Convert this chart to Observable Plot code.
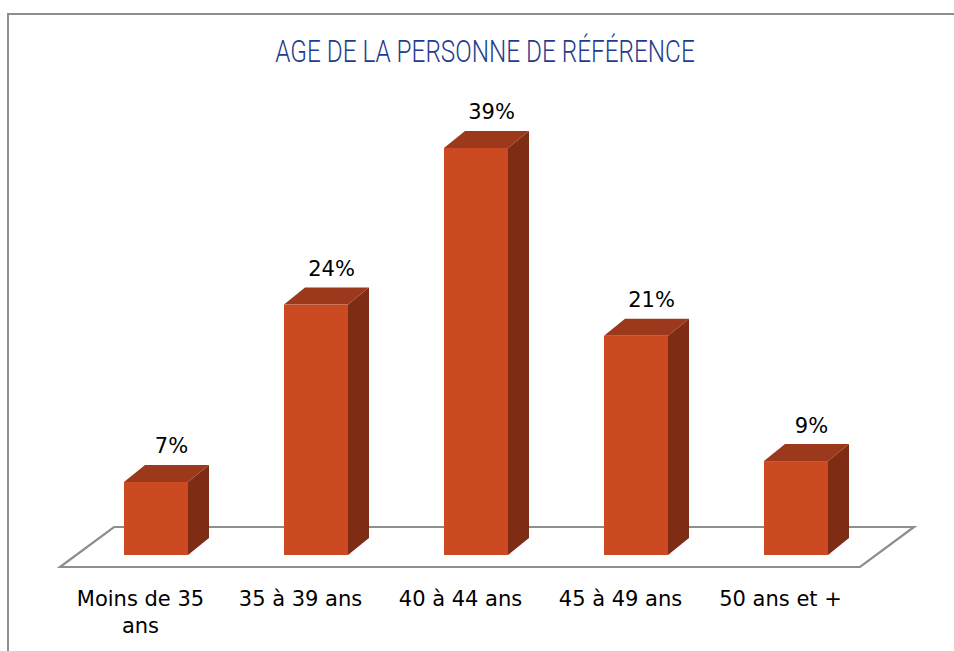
<!DOCTYPE html>
<html>
<head>
<meta charset="utf-8">
<script src="https://cdn.jsdelivr.net/npm/d3@7"></script>
<script src="https://cdn.jsdelivr.net/npm/@observablehq/plot@0.6"></script>
<style>
  html, body { margin: 0; padding: 0; background: #fff; }
  #wrap { position: relative; width: 954px; height: 651px; overflow: hidden; }
  #border { position: absolute; left: 7px; top: 13px; width: 980px; height: 700px;
            border-top: 2px solid #8e8e8e; border-left: 2px solid #8e8e8e; box-sizing: border-box; }
  #title { position: absolute; left: 0; top: 35px; width: 970px; text-align: center;
           font-family: Roboto, "DejaVu Sans", sans-serif; font-weight: 300; font-size: 32px;
           line-height: 32px; color: #1f3c8e; transform: scaleX(0.76); transform-origin: 485px 0;
           white-space: nowrap; }
  #chart { position: absolute; left: 0; top: 80px; }
</style>
</head>
<body>
<div id="wrap">
  <div id="border"></div>
  <div id="title">AGE DE LA PERSONNE DE RÉFÉRENCE</div>
  <div id="chart"></div>
</div>
<script>
const categories = ["Moins de 35 ans", "35 à 39 ans", "40 à 44 ans", "45 à 49 ans", "50 ans et +"];
const values = [7, 24, 39, 21, 9];
const valueLabels = ["7%", "24%", "39%", "21%", "9%"];

const data = categories.map((c, i) => ({cat: c, value: values[i], label: valueLabels[i]}));

const FRONT = "#cb4a22", TOP = "#9c391c", SIDE = "#7f2c15", FLOOR = "#8e8e8e";
const BAR_DX = 16;               // bar sits inside the floor
const DEPTH_X = 21, DEPTH_Y = 17; // bar depth
const FLOOR_DX = 54, FLOOR_FRONT = 12, FLOOR_BACK = 28;

const floor = Plot.frame({
  render(index, scales, values, dims) {
    const y0 = scales.y(0);
    const xl = dims.marginLeft, xr = dims.width - dims.marginRight;
    const g = d3.create("svg:g");
    const pts = [[xl, y0 + FLOOR_FRONT], [xr, y0 + FLOOR_FRONT],
                 [xr + FLOOR_DX, y0 - FLOOR_BACK], [xl + FLOOR_DX, y0 - FLOOR_BACK]];
    g.append("polygon").attr("points", pts.map(p => p.join(",")).join(" "))
      .attr("fill", "#fff").attr("stroke", FLOOR).attr("stroke-width", 2.2).attr("stroke-linejoin", "miter");
    return g.node();
  }
});

const bars = Plot.barY(data, {
  x: "cat", y: "value", fill: FRONT, dx: BAR_DX,
  render(index, scales, vals, dims, ctx, next) {
    const outer = d3.create("svg:g");
    const bw = scales.x.bandwidth();
    const yB = scales.y(0);
    for (const i of index) {
      const x0 = scales.x(data[i].cat) + BAR_DX;
      const yT = scales.y(data[i].value);
      const x1 = x0 + bw;
      outer.append("polygon")
        .attr("points", [[x1, yT], [x1 + DEPTH_X, yT - DEPTH_Y], [x1 + DEPTH_X, yB - DEPTH_Y], [x1, yB]].map(p => p.join(",")).join(" "))
        .attr("fill", SIDE);
      outer.append("polygon")
        .attr("points", [[x0, yT], [x0 + DEPTH_X, yT - DEPTH_Y], [x1 + DEPTH_X, yT - DEPTH_Y], [x1, yT]].map(p => p.join(",")).join(" "))
        .attr("fill", TOP);
    }
    const g = next(index, scales, vals, dims, ctx);
    outer.append(() => g);
    return outer.node();
  }
});

const plot = Plot.plot({
  width: 954,
  height: 571,
  marginLeft: 60,
  marginRight: 94,
  marginTop: 57.56,
  marginBottom: 96,
  style: {fontFamily: "'DejaVu Sans', sans-serif", fontSize: "21px", color: "#000", background: "transparent", overflow: "visible"},
  x: {domain: categories, paddingInner: 0.6, paddingOuter: 0.3, label: null},
  y: {domain: [0, 40], axis: null},
  marks: [
    floor,
    bars,
    Plot.text(data, {x: "cat", y: "value", text: "label", dx: BAR_DX + 15, dy: -29, lineAnchor: "bottom", fontSize: 21, fill: "#000"}),
    Plot.axisX({tickSize: 0, tickPadding: 31, fontSize: 21, lineHeight: 1.3, fill: "#000",
      tickFormat: d => d === "Moins de 35 ans" ? "Moins de 35\nans" : d, label: null})
  ]
});
document.getElementById("chart").appendChild(plot);
</script>
</body>
</html>
